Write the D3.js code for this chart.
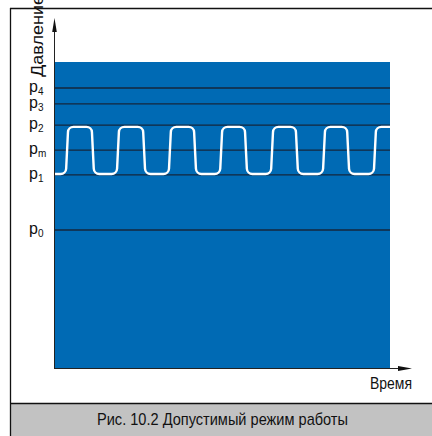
<!DOCTYPE html>
<html><head><meta charset="utf-8">
<script src="https://cdn.jsdelivr.net/npm/d3@7"></script>
<style>
html,body{margin:0;padding:0;background:#fff;}
svg{display:block;}
text{font-family:"Liberation Sans Narrow","Liberation Sans","DejaVu Sans Condensed",sans-serif;fill:#111;}
</style></head>
<body>
<svg id="c" width="432" height="436"></svg>
<script>
// ---- data ----
const levelNames = ["0", "1", "m", "2", "3", "4"];           // subscripts of p
const levelValues = [45.1, 63.1, 71.2, 79.4, 86.3, 91.5];      // pressure levels (0..100 of plot height)
const waveLow = 63.4;                                          // wave lower plateau
const waveHigh = 78.8;                                         // wave upper plateau
const riseTimes = [3.6, 18.8, 34.3, 49.6, 64.8, 80.3, 95.5];   // time of rising edges (0..100)
const fallTimes = [11.3, 26.6, 41.8, 57.0, 72.2, 87.5];        // time of falling edges
const yTitle = "Давление";
const xTitle = "Время";
const caption = "Рис. 10.2 Допустимый режим работы";

const svg = d3.select("#c");
const x = d3.scaleLinear().domain([0, 100]).range([55, 390]);
const y = d3.scaleLinear().domain([0, 100]).range([368, 62]);

// frame
svg.append("rect").attr("x", 10).attr("y", 403.5).attr("width", 422).attr("height", 33).attr("fill", "#c2c2c2");
svg.append("line").attr("x1", 10).attr("x2", 432).attr("y1", 8.5).attr("y2", 8.5).attr("stroke", "#111").attr("stroke-width", 1.3);
svg.append("line").attr("x1", 10).attr("x2", 432).attr("y1", 403.5).attr("y2", 403.5).attr("stroke", "#111").attr("stroke-width", 1.3);
svg.append("line").attr("x1", 10.5).attr("x2", 10.5).attr("y1", 8).attr("y2", 436).attr("stroke", "#111").attr("stroke-width", 1.3);

// blue plot area
svg.append("rect").attr("x", x(0)).attr("y", y(100)).attr("width", x(100) - x(0)).attr("height", y(0) - y(100)).attr("fill", "#006ab4");

// level lines
svg.append("g").selectAll("line").data(levelValues).join("line")
  .attr("x1", x(0)).attr("x2", x(100))
  .attr("y1", d => y(d)).attr("y2", d => y(d))
  .attr("stroke", "#14273c").attr("stroke-width", 1.3);

// wave
const events = riseTimes.map(t => ({t, up: true})).concat(fallTimes.map(t => ({t, up: false}))).sort((a, b) => a.t - b.t);
const s = 0.35;
const verts = [[x(0), y(waveLow)]];
events.forEach(e => {
  if (e.up) { verts.push([x(e.t - s), y(waveLow)]); verts.push([x(e.t + s), y(waveHigh)]); }
  else { verts.push([x(e.t - s), y(waveHigh)]); verts.push([x(e.t + s), y(waveLow)]); }
});
verts.push([x(100), y(events[events.length - 1].up ? waveHigh : waveLow)]);
const p = d3.path();
p.moveTo(verts[0][0], verts[0][1]);
for (let i = 1; i < verts.length - 1; i++) p.arcTo(verts[i][0], verts[i][1], verts[i + 1][0], verts[i + 1][1], 5.5);
p.lineTo(verts[verts.length - 1][0], verts[verts.length - 1][1]);
svg.append("path").attr("d", p.toString()).attr("fill", "none").attr("stroke", "#fff").attr("stroke-width", 2.4);

// y axis
const yAxis = d3.axisLeft(y).tickValues(levelValues).tickSize(0).tickFormat(() => "");
const gy = svg.append("g").attr("transform", `translate(${x(0)},0)`).call(yAxis);
gy.select(".domain").remove();
gy.selectAll(".tick text").each(function(d, i) {
  const t = d3.select(this).attr("x", 29 - x(0)).attr("dy", "0.2em").attr("text-anchor", "start")
    .style("font-size", "16px").attr("fill", "#111");
  t.append("tspan").text("p");
  t.append("tspan").text(levelNames[i]).style("font-size", "10px").attr("dy", "3");
});
svg.append("line").attr("x1", x(0) - 0.5).attr("x2", x(0) - 0.5).attr("y1", y(0)).attr("y2", 28).attr("stroke", "#222").attr("stroke-width", 1);
svg.append("path").attr("d", `M${x(0) - 0.5},18 L${x(0) - 2.8},32 L${x(0) + 1.8},32 Z`).attr("fill", "#111");

// x axis
svg.append("line").attr("x1", x(0) - 1).attr("x2", 402).attr("y1", y(0) + 0.5).attr("y2", y(0) + 0.5).attr("stroke", "#222").attr("stroke-width", 1.2);
svg.append("path").attr("d", `M412,${y(0) + 0.5} L398,${y(0) - 2} L398,${y(0) + 3} Z`).attr("fill", "#111");

// titles
svg.append("text").attr("transform", `translate(43,77) rotate(-90)`).attr("text-anchor", "start")
  .style("font-size", "17px").attr("textLength", 82).attr("lengthAdjust", "spacingAndGlyphs").text(yTitle);
svg.append("text").attr("x", 370).attr("y", 389).attr("text-anchor", "start").style("font-size", "17px")
  .attr("textLength", 42).attr("lengthAdjust", "spacingAndGlyphs").text(xTitle);
svg.append("text").attr("x", 97).attr("y", 425).attr("text-anchor", "start").style("font-size", "17px")
  .attr("textLength", 251).attr("lengthAdjust", "spacingAndGlyphs").text(caption);
</script>
</body></html>
